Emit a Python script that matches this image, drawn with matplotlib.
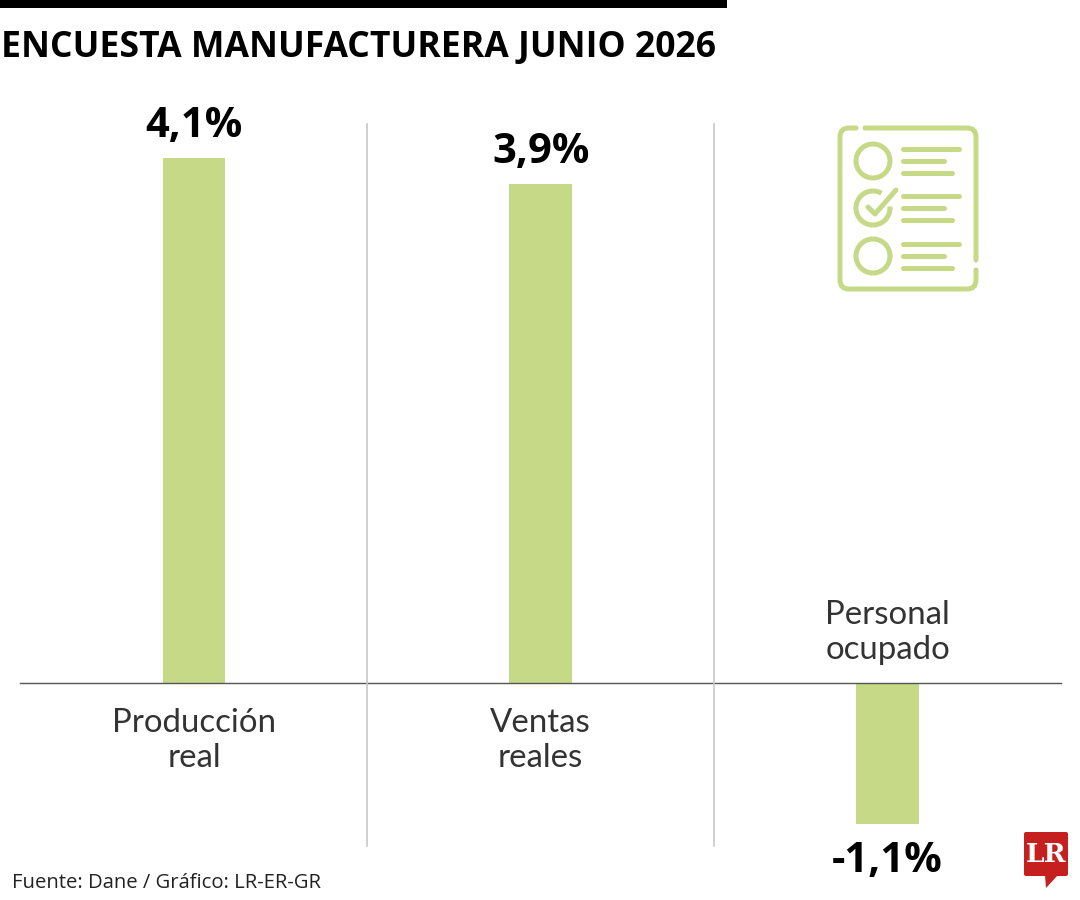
import matplotlib
matplotlib.use("Agg")
import matplotlib.pyplot as plt
from matplotlib.patches import Arc, Circle, FancyBboxPatch, PathPatch, Polygon
from matplotlib.path import Path

# Datos de la encuesta
categories = ["Producción\nreal", "Ventas\nreales", "Personal\nocupado"]
values = [4.1, 3.9, -1.1]
value_labels = ["4,1%", "3,9%", "-1,1%"]
title = "ENCUESTA MANUFACTURERA JUNIO 2026"
source = "Fuente: Dane / Gráfico: LR-ER-GR"

GREEN = "#c6d986"
GREY = "#c8c8c8"
W, H = 1080, 900

fig = plt.figure(figsize=(W / 100, H / 100), dpi=100, facecolor="white")

# Ejes de los datos: ocupan toda la figura, 128 px por punto porcentual
ax = fig.add_axes([0, 0, 1, 1])
ax.set_xlim(-194 / 346.75, (W - 194) / 346.75)
ax.set_ylim(-(H - 683) / 128, 683 / 128)
ax.axis("off")

x_pos = list(range(len(values)))
ax.bar(x_pos, values, width=0.181, color=GREEN, zorder=2)
ax.axhline(0, xmin=20 / W, xmax=1061 / W, color="#555555", lw=1.0, zorder=3)

cat_style = dict(textcoords="offset pixels", ha="center", fontsize=23.8, family="Lato",
                 color="#333333", linespacing=1.2)
val_style = dict(textcoords="offset pixels", ha="center", fontsize=30, fontweight="bold",
                 family="Open Sans", color="black")
for x, v, lab, cat in zip(x_pos, values, value_labels, categories):
    if v >= 0:
        ax.annotate(lab, (x, v), xytext=(0, 11), va="bottom", **val_style)
        ax.annotate(cat, (x, 0), xytext=(0, -25), va="top", **cat_style)
    else:
        ax.annotate(lab, (x, v), xytext=(0, -17), va="top", **val_style)
        ax.annotate(cat, (x, 0), xytext=(0, 18), va="bottom", **cat_style)

# Capa en pixeles para lo que no es dato: barra, titulo, separadores, icono, logo
over = fig.add_axes([0, 0, 1, 1])
over.set_xlim(0, W)
over.set_ylim(H, 0)
over.axis("off")
over.patch.set_alpha(0)

over.fill_between([0, 727], 0, 8, color="black", lw=0)
over.text(1, 48, title, fontsize=25.6, fontweight="bold", family="Open Sans",
          va="center", ha="left", color="black")
over.text(12, 883, source, fontsize=14.6, family="Open Sans", va="center", ha="left", color="#222222")

for x in [367, 714]:
    over.plot([x, x], [124, 846], color=GREY, lw=1.2, zorder=1)

# Icono de la lista
lw_icon = 3.6


def rounded_stroke(verts, codes):
    over.add_patch(PathPatch(Path(verts, codes), fill=False, ec=GREEN, lw=lw_icon, capstyle="round"))


M, L, C = Path.MOVETO, Path.LINETO, Path.CURVE3
rounded_stroke([(856, 128), (849, 128), (840, 128), (840, 137), (840, 280), (840, 289), (849, 289),
                (967, 289), (976, 289), (976, 280), (976, 270)],
               [M, L, C, C, L, C, C, L, C, C, L])
rounded_stroke([(865, 128), (967, 128), (976, 128), (976, 137), (976, 260)],
               [M, L, C, C, L])

for cy in [161, 208, 256]:
    if cy != 208:
        over.add_patch(Circle((873, cy), 17, fill=False, ec=GREEN, lw=lw_icon))
    over.plot([903, 959], [cy - 12, cy - 12], color=GREEN, lw=3.6, solid_capstyle="round")
    over.plot([903, 944], [cy, cy], color=GREEN, lw=3.6, solid_capstyle="round")
    over.plot([903, 952], [cy + 12, cy + 12], color=GREEN, lw=3.6, solid_capstyle="round")
over.add_patch(Arc((873, 208), 34, 34, theta1=-5, theta2=300, fill=False, ec=GREEN, lw=lw_icon))
over.plot([868, 875, 896], [207, 214, 190], color=GREEN, lw=lw_icon, solid_capstyle="round",
          solid_joinstyle="round")

# Logo LR
over.add_patch(FancyBboxPatch((1024, 832), 44, 44, boxstyle="round,pad=0,rounding_size=2", fc="#c5201f", ec="none"))
over.add_patch(Polygon([[1045, 875], [1058, 875], [1046, 888]], fc="#c5201f", ec="none"))
over.text(1046, 854, "LR", fontsize=19, fontweight="bold", family="DejaVu Serif", color="white", ha="center", va="center")

fig.savefig("out.png", dpi=100)
